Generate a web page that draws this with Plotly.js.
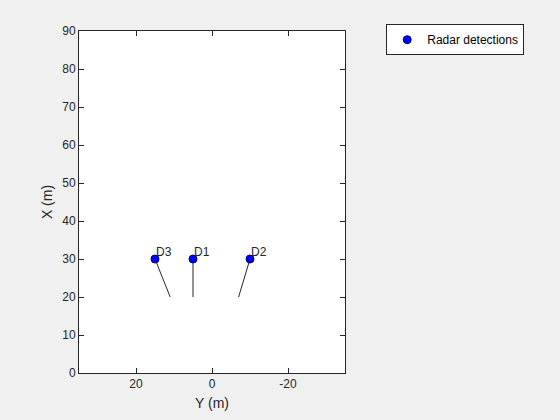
<!DOCTYPE html>
<html>
<head>
<meta charset="utf-8">
<script src="https://cdn.plot.ly/plotly-3.0.1.min.js"></script>
<style>html,body{margin:0;padding:0;background:#f0f0f0;}</style>
</head>
<body>
<div id="chart" style="width:560px;height:420px;"></div>
<script>
// Detections: lateral position Y (m), longitudinal position X (m)
const detLabels = ["D1", "D2", "D3"];
const detY = [5, -10, 15];
const detX = [30, 30, 30];
// Velocity vector end points
const vecEndY = [5, -7, 11];
const vecEndX = [20, 20, 20];
// Tick labels
const xTickVals = [20, 0, -20];
const xTickText = ["20", "0", "-20"];

const lineX = [], lineY = [];
for (let i = 0; i < detY.length; i++) {
  lineX.push(detY[i], vecEndY[i], null);
  lineY.push(detX[i], vecEndX[i], null);
}

const FONT = "Liberation Sans, Arial, sans-serif";

const traces = [
  {
    x: lineX, y: lineY, type: "scatter", mode: "lines",
    line: {color: "#262626", width: 1}, showlegend: false, hoverinfo: "skip"
  },
  {
    x: detY, y: detX, type: "scatter", mode: "markers",
    name: "Radar detections",
    marker: {color: "#0000ff", size: 8, line: {color: "#000080", width: 1}}
  }
];

const annotations = detLabels.map((t, i) => ({
  x: detY[i], y: detX[i], text: t, showarrow: false,
  xanchor: "left", yanchor: "bottom", xshift: -1, yshift: -2,
  font: {family: FONT, size: 12, color: "#262626"}
}));

const axisCommon = {
  showline: true, mirror: "ticks", linecolor: "#262626", linewidth: 1,
  ticks: "inside", ticklen: 5, tickcolor: "#262626",
  showgrid: false, zeroline: false,
  tickfont: {family: FONT, size: 12, color: "#262626"}
};

const layout = {
  width: 560, height: 420,
  paper_bgcolor: "#f0f0f0", plot_bgcolor: "#ffffff",
  margin: {l: 79, r: 215, t: 31, b: 47},
  xaxis: Object.assign({}, axisCommon, {
    range: [35, -35], tickvals: xTickVals, ticktext: xTickText,
    title: {text: "Y (m)", standoff: 7, font: {family: FONT, size: 14, color: "#262626"}}
  }),
  yaxis: Object.assign({}, axisCommon, {
    range: [0, 90], dtick: 10,
    title: {text: "X (m)", standoff: 6, font: {family: FONT, size: 14, color: "#262626"}}
  }),
  showlegend: true,
  legend: {
    x: 1.155, y: 1.02, xanchor: "left", yanchor: "top",
    bgcolor: "#ffffff", bordercolor: "#262626", borderwidth: 1,
    font: {family: FONT, size: 12, color: "#000000"},
    itemwidth: 30, tracegroupgap: 0
  },
  annotations: annotations
};

Plotly.newPlot("chart", traces, layout, {displayModeBar: false, staticPlot: true});
</script>
</body>
</html>
